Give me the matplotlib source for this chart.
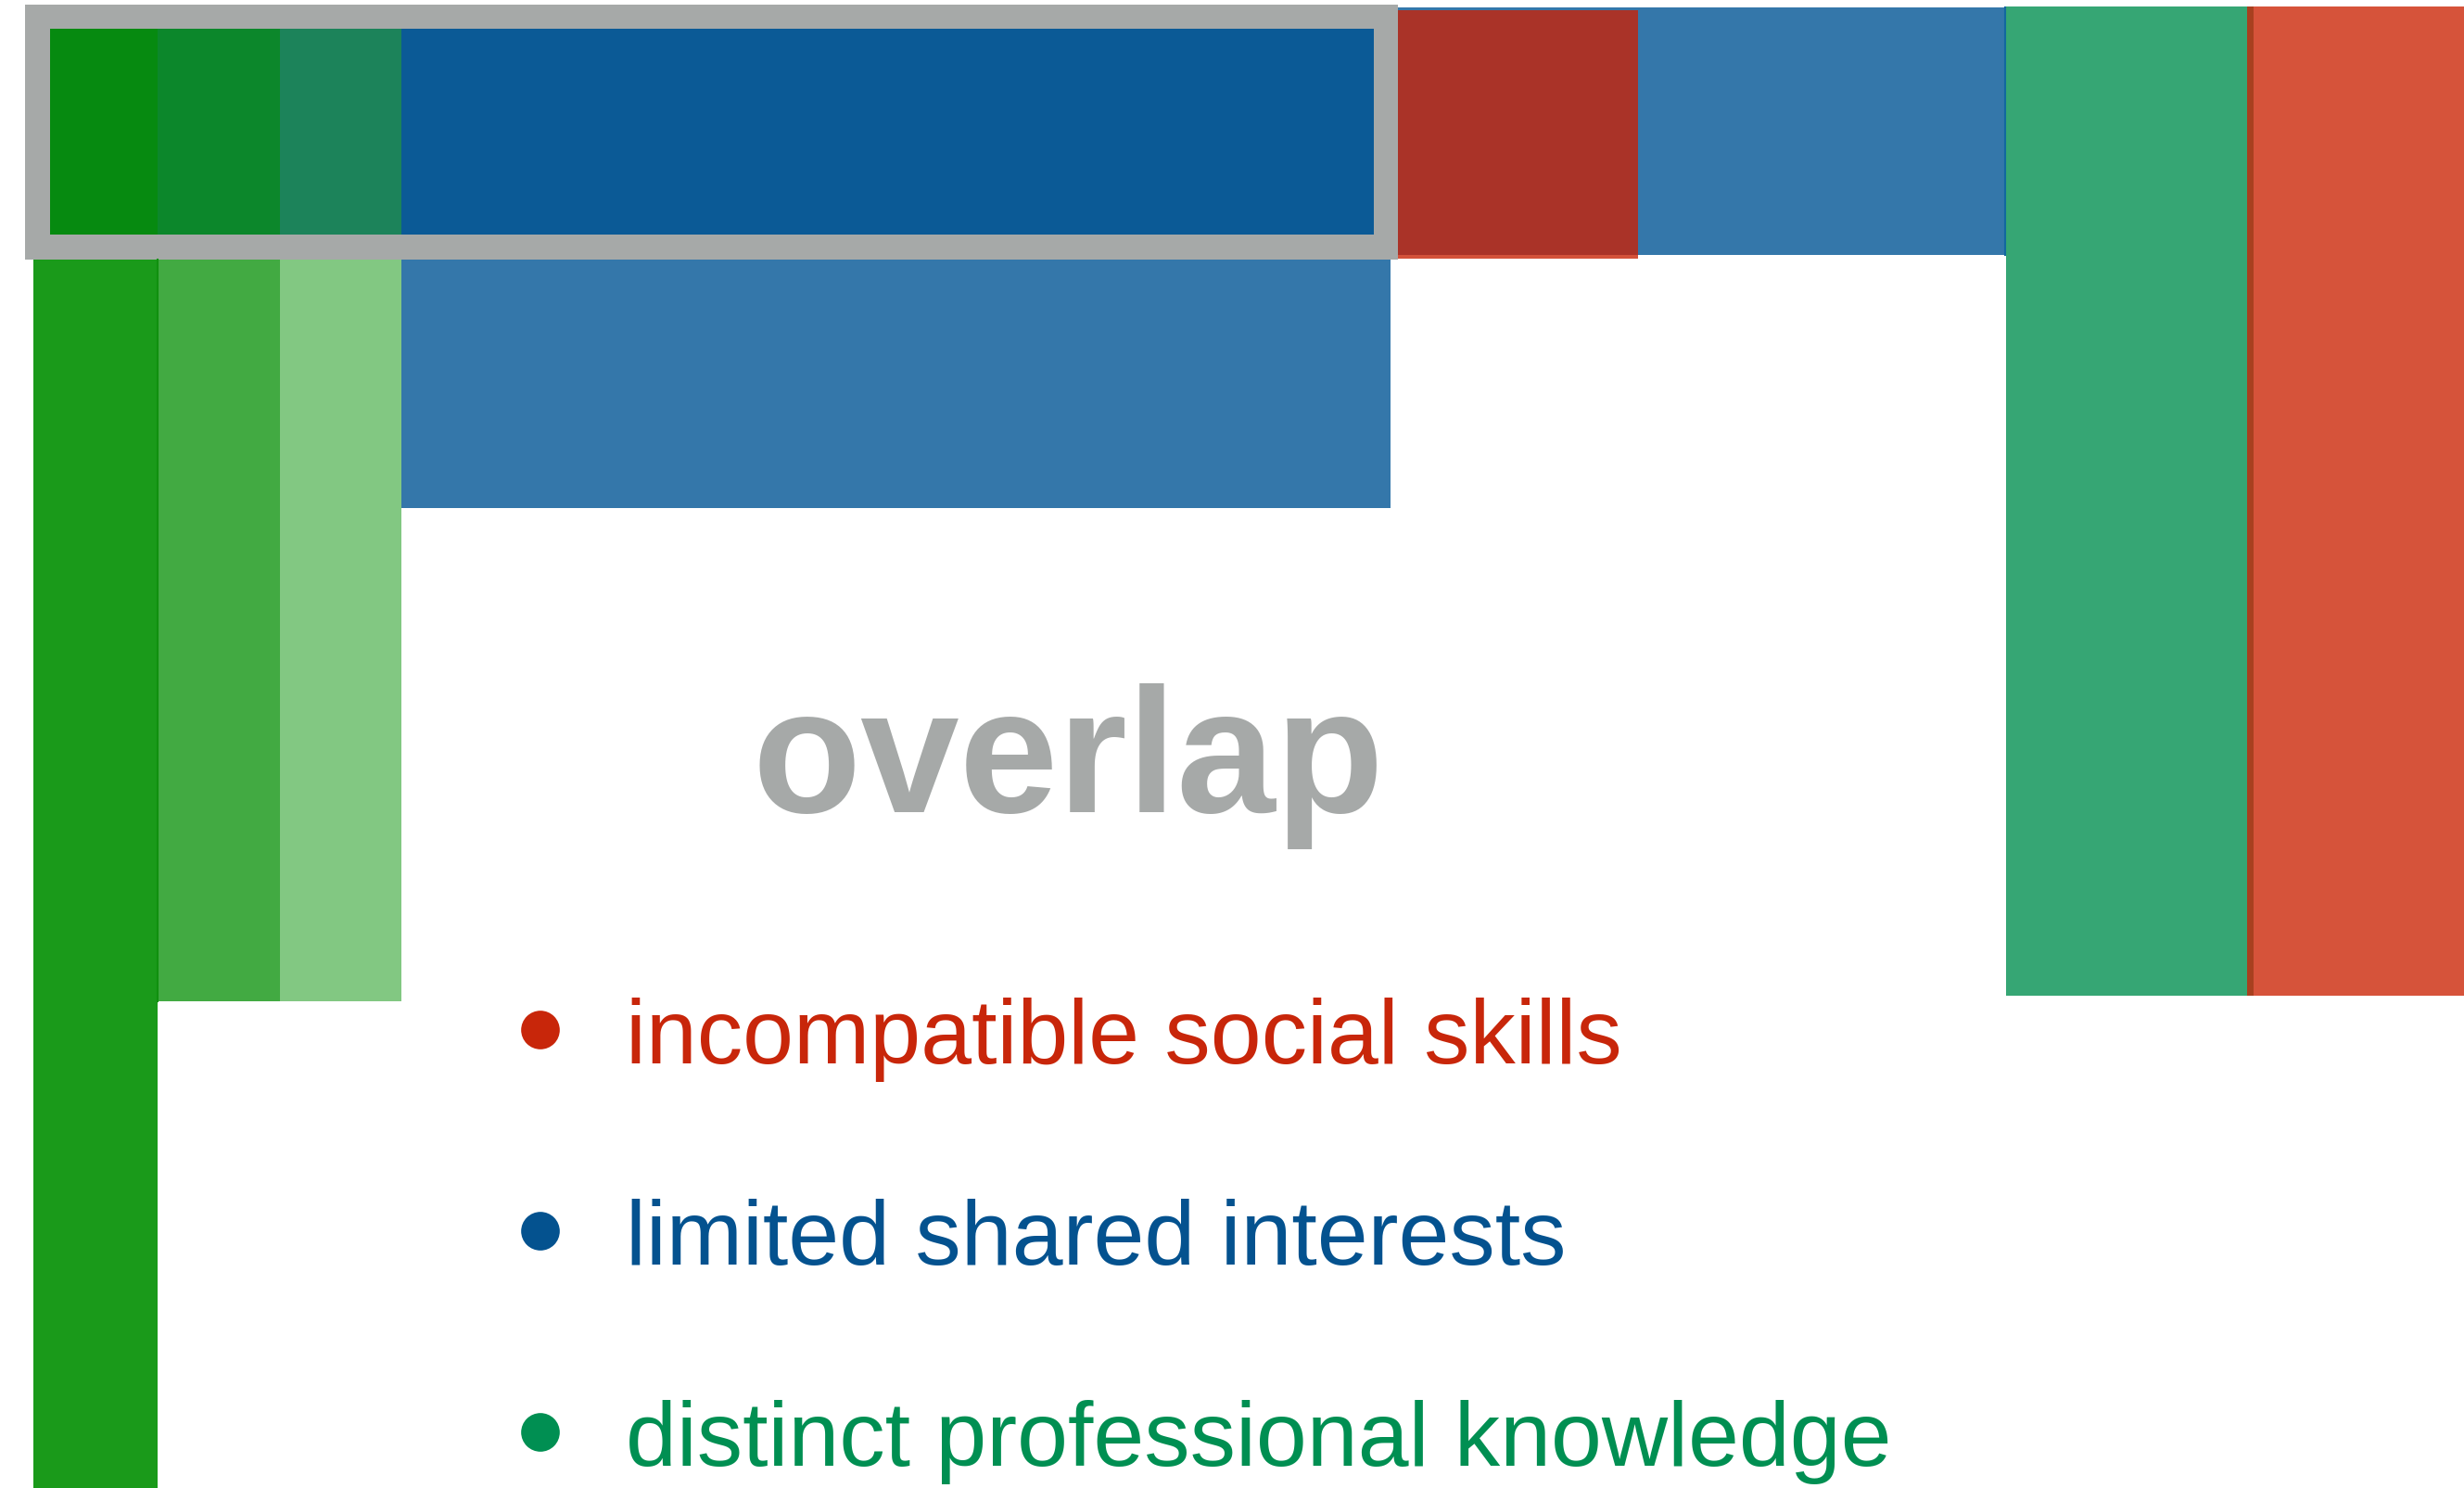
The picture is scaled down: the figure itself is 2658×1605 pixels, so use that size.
import matplotlib
matplotlib.use("Agg")
import matplotlib.pyplot as plt

plt.rcParams['font.family'] = ['Liberation Sans', 'DejaVu Sans']

# canvas units (pixels of the original drawing)
W, H = 2658, 1606

# left block: professional knowledge columns + shared interests block
col_left = [36, 170, 302]
col_width = [134, 132, 131]
col_top = [32, 32, 32]
col_bottom = [1606, 1081, 1081]
col_colors = ['#1a9a1a', '#42aa42', '#82c882']

interest_left = [433]
interest_width = [1067]
interest_top = [32]
interest_bottom = [549]
interest_colors = ['#3477aa']

# highlighted "overlap" strip inside the gray frame
frame_outer = (27, 6, 1508, 281)
frame_inner_left = [54, 170, 302, 433]
frame_inner_right = [170, 302, 433, 1482]
frame_inner_top, frame_inner_bottom = 32, 254
frame_inner_colors = ['#068a10', '#0c872b', '#1c835a', '#0b5a96']

# top right blocks
right_left = [1508, 1508, 1508, 2164, 2424, 2431]
right_right = [2164, 1767, 1767, 2424, 2431, 2658]
right_top = [9, 12, 12, 8, 8, 8]
right_bottom = [276, 280, 276, 1075, 1075, 1075]
right_colors = ['#3477aa', '#d4523a', '#aa3328', '#36a674', '#a8401f', '#d6533a']

# legend
legend_labels = ['incompatible social skills', 'limited shared interests',
                 'distinct professional knowledge']
legend_colors = ['#c8260a', '#04528f', '#008f52']
legend_y = [1112, 1329, 1546]

fig = plt.figure(figsize=(W / 100, H / 100), dpi=100)
ax = fig.add_axes([0, 0, 1, 1])
ax.set_xlim(0, W)
ax.set_ylim(H, 0)
ax.axis('off')


def blocks(lefts, rights, tops, bottoms, colors, **kw):
    for l, r, t, b, c in zip(lefts, rights, tops, bottoms, colors):
        ax.bar(l, b - t, width=r - l, bottom=t, align='edge', color=c,
               linewidth=0, **kw)


blocks(col_left, [l + w for l, w in zip(col_left, col_width)], col_top, col_bottom, col_colors)
ax.plot([170, 170], [281, 1081], color='#10900f', lw=1.5)
blocks(interest_left, [l + w for l, w in zip(interest_left, interest_width)],
       interest_top, interest_bottom, interest_colors)

blocks(right_left, right_right, right_top, right_bottom, right_colors)
ax.plot([2163, 2163], [9, 276], color='#12689f', lw=1.5)

fx0, fy0, fx1, fy1 = frame_outer
blocks([fx0], [fx1], [fy0], [fy1], ['#a6a9a8'])
blocks(frame_inner_left, frame_inner_right, [frame_inner_top] * 4,
       [frame_inner_bottom] * 4, frame_inner_colors)

ax.text(1152, 876, 'overlap', fontsize=138, fontweight='bold', color='#a6a9a8',
        ha='center', va='baseline')

ax.scatter([583] * 3, legend_y, s=900, c=legend_colors, linewidths=0, zorder=5)
for lab, c, y in zip(legend_labels, legend_colors, legend_y):
    ax.text(675, y + 35, lab, fontsize=71, color=c, ha='left', va='baseline')

fig.savefig('out.png', dpi=100)
